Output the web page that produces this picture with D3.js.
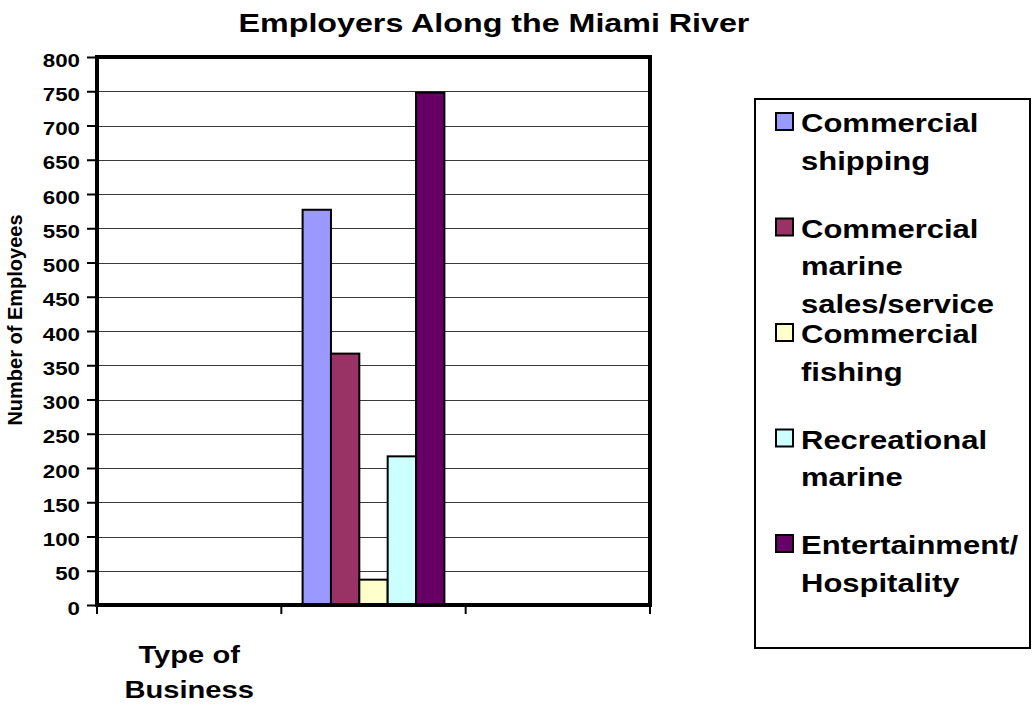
<!doctype html>
<html lang="en">
  <head>
    <meta charset="UTF-8" />
    <title>Employers Along the Miami River</title>
    <style>
      body {
        margin: 0;
        background: #fff;
      }
      svg text {
        font-family: Arial, "Liberation Sans", Helvetica, sans-serif;
        font-weight: bold;
        fill: #000;
      }
    </style>
  </head>
  <body>
    <svg id="chart"></svg>
    <script src="https://d3js.org/d3.v7.min.js"></script>
    <script>
      /* global d3 */

      // three slots on the category axis; only the first one carries a label
      const categories = ["first", "second", "third"];
      const categoryLabels = ["Type of Business", "", ""];

      const seriesNames = [
        "Commercial shipping",
        "Commercial marine sales/service",
        "Commercial fishing",
        "Recreational marine",
        "Entertainment/Hospitality",
      ];
      const employees = [577, 367, 37, 217, 748];
      const barCategory = "second";

      const yTicks = d3.range(0, 801, 50);

      const seriesColors = ["#9999ff", "#993366", "#ffffcc", "#ccffff", "#660066"];

      const width = 1032,
        height = 708;
      const plot = { left: 97, right: 650, top: 57, bottom: 605 };
      // the letters in the picture are a little wider than tall
      const SX = 1.24;

      const svg = d3
        .select("#chart")
        .attr("width", width)
        .attr("height", height)
        .attr("viewBox", [0, 0, width, height]);

      svg.append("rect").attr("width", width).attr("height", height).attr("fill", "#fff");

      const xBand = d3
        .scaleBand()
        .domain(categories)
        .range([plot.left, plot.right])
        .padding(0);

      // excel style gap width of 30%
      const gap = 0.15 / 1.3;
      const xSeries = d3
        .scaleBand()
        .domain(seriesNames)
        .range([xBand.bandwidth() * gap, xBand.bandwidth() * (1 - gap)])
        .padding(0);

      const y = d3.scaleLinear().domain([0, 800]).range([plot.bottom, plot.top]);

      const color = d3.scaleOrdinal().domain(seriesNames).range(seriesColors);

      function stretch(sel, x, yy) {
        sel.attr("transform", `translate(${x},${yy}) scale(${SX},1)`);
      }

      // measure widths of the stretched text
      const probe = svg.append("text").attr("visibility", "hidden");
      function textWidth(str, size) {
        probe.style("font-size", size + "px").text(str);
        return probe.node().getComputedTextLength() * SX;
      }

      function wrap(str, size, maxWidth) {
        let words = [];
        str.split(/\s+/).forEach((w) => {
          if (textWidth(w, size) > maxWidth && w.includes("/")) {
            const parts = w.split("/");
            parts.forEach((p, i) => words.push(i < parts.length - 1 ? p + "/" : p));
          } else words.push(w);
        });
        const lines = [];
        let line = "";
        words.forEach((w) => {
          const test = line ? line + " " + w : w;
          if (line && textWidth(test, size) > maxWidth) {
            lines.push(line);
            line = w;
          } else line = test;
        });
        if (line) lines.push(line);
        return lines;
      }

      // gridlines
      svg
        .append("g")
        .selectAll("line")
        .data(yTicks.filter((d) => d > 0 && d < 800))
        .join("line")
        .attr("x1", plot.left)
        .attr("x2", plot.right)
        .attr("y1", (d) => Math.round(y(d)) + 0.5)
        .attr("y2", (d) => Math.round(y(d)) + 0.5)
        .attr("stroke", "#3a3a3a")
        .attr("stroke-width", 1);

      // bars
      svg
        .append("g")
        .selectAll("rect")
        .data(seriesNames)
        .join("rect")
        .attr("x", (d) => xBand(barCategory) + xSeries(d))
        .attr("y", (d, i) => y(employees[i]))
        .attr("width", xSeries.bandwidth())
        .attr("height", (d, i) => y(0) - y(employees[i]))
        .attr("fill", (d) => color(d))
        .attr("stroke", "#000")
        .attr("stroke-width", 2);

      // plot frame
      svg
        .append("rect")
        .attr("x", plot.left)
        .attr("y", plot.top)
        .attr("width", plot.right - plot.left)
        .attr("height", plot.bottom - plot.top)
        .attr("fill", "none")
        .attr("stroke", "#000")
        .attr("stroke-width", 4);

      // y axis
      const yAxis = svg
        .append("g")
        .attr("transform", `translate(${plot.left - 1},0)`)
        .call(d3.axisLeft(y).tickValues(yTicks).tickSize(9).tickFormat(d3.format("d")));
      yAxis.select(".domain").remove();
      yAxis.selectAll(".tick line").attr("stroke", "#000").attr("stroke-width", 2);
      yAxis
        .selectAll(".tick text")
        .attr("x", 0)
        .attr("dy", "0.5em")
        .style("font-size", "18px")
        .attr("fill", "#000")
        .call(stretch, -16, 0);

      // category axis ticks
      const bounds = categories.map((c) => xBand(c)).concat([plot.right]);
      svg
        .append("g")
        .selectAll("line")
        .data(bounds)
        .join("line")
        .attr("x1", (d) => d)
        .attr("x2", (d) => d)
        .attr("y1", plot.bottom)
        .attr("y2", plot.bottom + 9)
        .attr("stroke", "#000")
        .attr("stroke-width", 2);

      // category labels
      const catG = svg.append("g");
      categories.forEach((c, i) => {
        if (!categoryLabels[i]) return;
        const lines = wrap(categoryLabels[i], 23.5, xBand.bandwidth() * 0.95);
        lines.forEach((ln, j) => {
          catG
            .append("text")
            .attr("text-anchor", "middle")
            .style("font-size", "23.5px")
            .text(ln)
            .call(stretch, xBand(c) + xBand.bandwidth() / 2, 663 + j * 35);
        });
      });

      // title
      svg
        .append("text")
        .attr("text-anchor", "middle")
        .style("font-size", "26px")
        .text("Employers Along the Miami River")
        .call(stretch, 494, 32);

      // y axis title
      svg
        .append("text")
        .attr("text-anchor", "middle")
        .attr("transform", "translate(22,320) rotate(-90)")
        .style("font-size", "20px")
        .attr("fill", "#222")
        .text("Number of Employees");

      // legend
      const legend = { x: 755, y: 99, w: 275, h: 549 };
      svg
        .append("rect")
        .attr("x", legend.x)
        .attr("y", legend.y)
        .attr("width", legend.w)
        .attr("height", legend.h)
        .attr("fill", "#fff")
        .attr("stroke", "#000")
        .attr("stroke-width", 2);

      const legendSize = 25;
      const entries = svg
        .append("g")
        .selectAll("g")
        .data(seriesNames)
        .join("g")
        .attr("transform", (d, i) => `translate(0,${132 + i * 105.5})`);

      entries
        .append("rect")
        .attr("x", 776)
        .attr("y", -19)
        .attr("width", 17)
        .attr("height", 17)
        .attr("fill", (d) => color(d))
        .attr("stroke", "#000")
        .attr("stroke-width", 2);

      entries.each(function (d) {
        const lines = wrap(d, legendSize, legend.x + legend.w - 802);
        const g = d3.select(this);
        lines.forEach((ln, j) => {
          g.append("text")
            .style("font-size", legendSize + "px")
            .text(ln)
            .call(stretch, 801, j * 37.5);
        });
      });

      probe.remove();
    </script>
  </body>
</html>
